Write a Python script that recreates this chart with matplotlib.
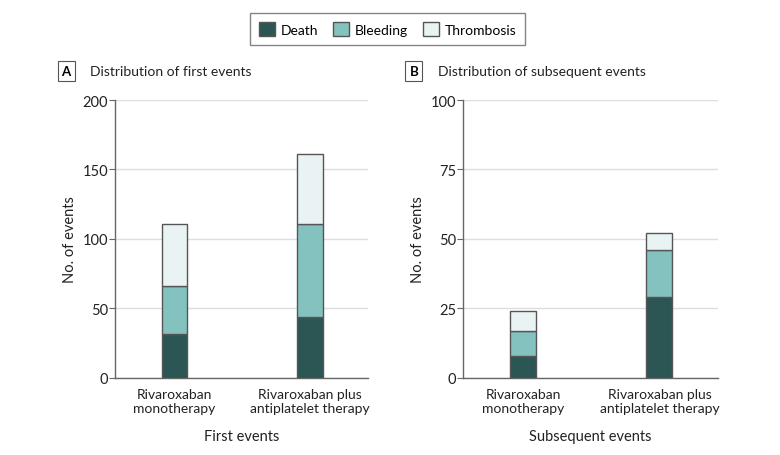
import numpy as np
import matplotlib; matplotlib.use('Agg')
import matplotlib.pyplot as plt
from matplotlib.patches import Patch

plt.rcParams['font.family'] = ['Lato', 'DejaVu Sans']

# ── Data ─────────────────────────────────────────────────────────────────────
groups = ['Rivaroxaban\nmonotherapy', 'Rivaroxaban plus\nantiplatelet therapy']
first_death      = [32, 44]
first_bleeding   = [34, 67]
first_thrombosis = [45, 50]
subs_death      = [8, 29]
subs_bleeding   = [9, 17]
subs_thrombosis = [7, 6]

SERIES = ['Death', 'Bleeding', 'Thrombosis']
COLOURS = ['#2b5654', '#84c2c0', '#e9f3f4']
EDGE = '#555555'
TXT = '#222222'

fig = plt.figure(figsize=(7.8, 4.56), dpi=100)
axA = fig.add_axes([0.1474, 0.1689, 0.3244, 0.6096])
axB = fig.add_axes([0.5936, 0.1689, 0.3270, 0.6096])

panels = [
    (axA, [first_death, first_bleeding, first_thrombosis], 200, 50,
     'A', 'Distribution of first events', 'First events'),
    (axB, [subs_death, subs_bleeding, subs_thrombosis], 100, 25,
     'B', 'Distribution of subsequent events', 'Subsequent events'),
]

x = np.arange(len(groups))
for ax, vals, ymax, step, letter, title, xlabel in panels:
    bottom = np.zeros(len(groups))
    for v, c, name in zip(vals, COLOURS, SERIES):
        ax.bar(x, v, width=0.19, bottom=bottom, color=c, edgecolor=EDGE,
               linewidth=1.0, label=name, zorder=3)
        bottom += np.array(v)
    ax.set_xlim(-0.44, 1.43)
    ax.set_ylim(0, ymax)
    ax.set_yticks(np.arange(0, ymax + 1, step))
    ax.set_xticks(x)
    ax.set_xticklabels(groups, fontsize=10, color=TXT, linespacing=1.2)
    ax.tick_params(axis='x', length=0, pad=7)
    ax.tick_params(axis='y', length=4, width=0.8, color='#666666',
                   labelsize=10.5, labelcolor=TXT, pad=1)
    ax.grid(axis='y', color='#dddddd', lw=1.0, zorder=0)
    for s in ['top', 'right']:
        ax.spines[s].set_visible(False)
    for s in ['left', 'bottom']:
        ax.spines[s].set_color('#666666')
        ax.spines[s].set_linewidth(1.0)
    ax.set_ylabel('No. of events', fontsize=10.5, color=TXT, labelpad=4)
    ax.set_xlabel(xlabel, fontsize=10.5, color=TXT, labelpad=11)
    # panel label
    ax.text(-0.193, 1.105, letter, transform=ax.transAxes, fontsize=9.5,
            fontweight='bold', ha='center', va='center',
            bbox=dict(boxstyle='square,pad=0.3', fc='white', ec='#555555', lw=0.8))
    ax.text(-0.10, 1.105, title, transform=ax.transAxes, fontsize=10,
            ha='left', va='center', color=TXT)

handles = [Patch(facecolor=c, edgecolor=EDGE, label=n) for c, n in zip(COLOURS, SERIES)]
fig.legend(handles=handles, loc='center', bbox_to_anchor=(0.497, 0.934), ncol=3,
           fontsize=10, frameon=True, fancybox=False, edgecolor='#666666',
           handlelength=1.15, handleheight=1.15, columnspacing=1.1, handletextpad=0.4,
           borderpad=0.65)

fig.savefig('out.png', dpi=100)
